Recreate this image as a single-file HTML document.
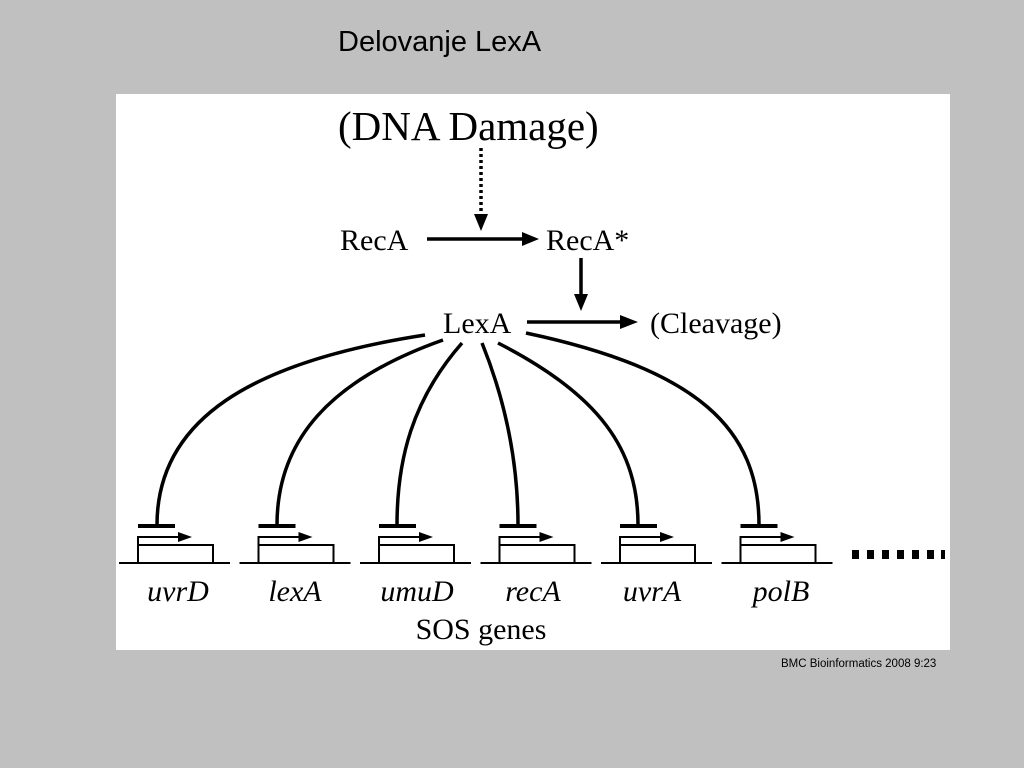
<!DOCTYPE html>
<html><head><style>
html,body{margin:0;padding:0;}
body{width:1024px;height:768px;background:#c0c0c0;position:relative;overflow:hidden;font-family:"Liberation Sans",sans-serif;}
.t{position:absolute;left:338px;top:26px;font-size:29px;color:#000;}
.c{position:absolute;left:781px;top:658px;font-size:11.5px;color:#000;}
svg{position:absolute;left:0;top:0;}
</style></head><body>
<div class="t">Delovanje LexA</div>
<svg width="1024" height="768" viewBox="0 0 1024 768">
<rect x="116" y="94" width="834" height="556" fill="#fff"/>
<g font-family="Liberation Serif, serif" fill="#000">
<text x="338" y="140" font-size="41">(DNA Damage)</text>
<text x="340" y="250" font-size="30">RecA</text>
<text x="546" y="250" font-size="30">RecA*</text>
<text x="443" y="333" font-size="30">LexA</text>
<text x="650" y="333" font-size="30">(Cleavage)</text>
<g font-style="italic" font-size="30" text-anchor="middle">
<text x="178" y="601">uvrD</text>
<text x="295" y="601">lexA</text>
<text x="417" y="601">umuD</text>
<text x="533" y="601">recA</text>
<text x="652" y="601">uvrA</text>
<text x="781" y="601">polB</text>
</g>
<text x="481" y="639" font-size="30" text-anchor="middle">SOS genes</text>
</g>
<g stroke="#000" fill="none" stroke-width="3.5">
<line x1="481" y1="148" x2="481" y2="216" stroke-dasharray="3,3"/>
<line x1="427" y1="239" x2="525" y2="239"/>
<line x1="581" y1="258" x2="581" y2="296"/>
<line x1="527" y1="322" x2="622" y2="322"/>
<path d="M425,335 C250,362 157,420 157,525"/>
<path d="M443,340 C330,380 277,440 277,525"/>
<path d="M462,343 C412,400 397,460 397,525"/>
<path d="M482,343 C505,400 518,460 518,525"/>
<path d="M498,343 C600,395 638,450 638,525"/>
<path d="M526,333 C700,370 759,430 759,525"/>
</g>
<g fill="#000">
<polygon points="474,214 488,214 481,231"/>
<polygon points="522,232 522,246 539,239"/>
<polygon points="574,294 588,294 581,311"/>
<polygon points="620,315 620,329 638,322"/>
</g>
<g id="genes" stroke="#000" fill="none">
<g transform="translate(138,0)"><line x1="0" y1="526" x2="37" y2="526" stroke-width="4"/><path d="M0,545 V537 H42" stroke-width="2"/><polygon points="40,532 40,542 54,537" fill="#000" stroke="none"/><rect x="0" y="545" width="75" height="18" stroke-width="2"/><line x1="-19" y1="563" x2="92" y2="563" stroke-width="2"/></g>
<g transform="translate(258.5,0)"><line x1="0" y1="526" x2="37" y2="526" stroke-width="4"/><path d="M0,545 V537 H42" stroke-width="2"/><polygon points="40,532 40,542 54,537" fill="#000" stroke="none"/><rect x="0" y="545" width="75" height="18" stroke-width="2"/><line x1="-19" y1="563" x2="92" y2="563" stroke-width="2"/></g>
<g transform="translate(379,0)"><line x1="0" y1="526" x2="37" y2="526" stroke-width="4"/><path d="M0,545 V537 H42" stroke-width="2"/><polygon points="40,532 40,542 54,537" fill="#000" stroke="none"/><rect x="0" y="545" width="75" height="18" stroke-width="2"/><line x1="-19" y1="563" x2="92" y2="563" stroke-width="2"/></g>
<g transform="translate(499.5,0)"><line x1="0" y1="526" x2="37" y2="526" stroke-width="4"/><path d="M0,545 V537 H42" stroke-width="2"/><polygon points="40,532 40,542 54,537" fill="#000" stroke="none"/><rect x="0" y="545" width="75" height="18" stroke-width="2"/><line x1="-19" y1="563" x2="92" y2="563" stroke-width="2"/></g>
<g transform="translate(620,0)"><line x1="0" y1="526" x2="37" y2="526" stroke-width="4"/><path d="M0,545 V537 H42" stroke-width="2"/><polygon points="40,532 40,542 54,537" fill="#000" stroke="none"/><rect x="0" y="545" width="75" height="18" stroke-width="2"/><line x1="-19" y1="563" x2="92" y2="563" stroke-width="2"/></g>
<g transform="translate(740.5,0)"><line x1="0" y1="526" x2="37" y2="526" stroke-width="4"/><path d="M0,545 V537 H42" stroke-width="2"/><polygon points="40,532 40,542 54,537" fill="#000" stroke="none"/><rect x="0" y="545" width="75" height="18" stroke-width="2"/><line x1="-19" y1="563" x2="92" y2="563" stroke-width="2"/></g>
</g>
<g fill="#000">
<rect x="852" y="550" width="7" height="9"/><rect x="867" y="550" width="7" height="9"/><rect x="882" y="550" width="7" height="9"/><rect x="897" y="550" width="7" height="9"/><rect x="912" y="550" width="7" height="9"/><rect x="927" y="550" width="7" height="9"/><rect x="941" y="550" width="4" height="9"/>
</g>
</svg>
<div class="c">BMC Bioinformatics 2008 9:23</div>
</body></html>
